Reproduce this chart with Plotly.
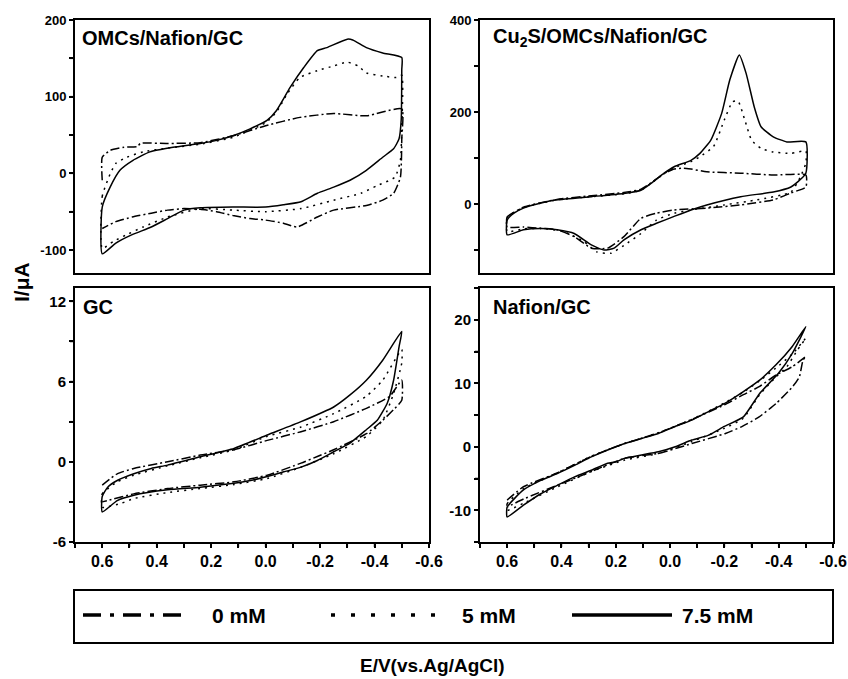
import plotly.graph_objects as go

FONT = "Liberation Sans, Arial, Helvetica, sans-serif"

# ---------------- data ----------------
concentrations = ["0 mM", "5 mM", "7.5 mM"]
panel_titles = ["OMCs/Nafion/GC", "Cu<sub>2</sub>S/OMCs/Nafion/GC", "GC", "Nafion/GC"]

# OMCs/Nafion/GC  (I in uA, E in V)
omc_E_0 = [0.6, 0.6, 0.57, 0.52, 0.47, 0.46, 0.36, 0.24, 0.12, 0.0, -0.126, -0.25, -0.37, -0.5,
           -0.5, -0.495, -0.47, -0.43, -0.37, -0.25, -0.19, -0.115, -0.065, 0.0, 0.057, 0.12, 0.18,
           0.24, 0.30, 0.36, 0.42, 0.49, 0.55, 0.6]
omc_I_0 = [-9, 21, 30, 34, 35, 39, 39, 40, 49, 62, 73, 78, 75, 84,
           45, -5, -26, -35, -42, -48, -57, -70, -65, -61, -59, -55, -50,
           -47, -46, -48, -52, -57, -63, -72]
omc_E_5 = [0.6, 0.6, 0.57, 0.55, 0.51, 0.45, 0.36, 0.24, 0.12, 0.0, -0.04, -0.08, -0.126, -0.19,
           -0.25, -0.30, -0.34, -0.37, -0.43, -0.48, -0.5,
           -0.5, -0.495, -0.475, -0.41, -0.35, -0.25, -0.13, 0.0, 0.12, 0.24, 0.36, 0.45, 0.51,
           0.56, 0.6]
omc_I_5 = [-98, -30, 0, 13, 21, 28, 33, 38, 47, 66, 80, 104, 125, 134,
           140, 145, 140, 131, 127, 125, 128,
           60, 17, -5, -16, -26, -35, -46, -50, -48, -46, -57, -70, -80,
           -89, -98]
omc_E_75 = [0.6, 0.6, 0.571, 0.535, 0.487, 0.425, 0.34, 0.24, 0.18, 0.12, 0.057, -0.005, -0.04,
            -0.09, -0.14, -0.19, -0.225, -0.30, -0.32, -0.37, -0.43, -0.5,
            -0.5, -0.498, -0.49, -0.47, -0.43, -0.37, -0.31, -0.25, -0.19, -0.13, -0.065, 0.0,
            0.12, 0.24, 0.30, 0.36, 0.42, 0.49, 0.55, 0.6]
omc_I_75 = [-105, -44, -18, 4, 17, 28, 34, 39, 43, 49, 58, 69, 82,
            112, 138, 160, 164, 175, 174, 164, 157, 151,
            135, 70, 45, 32, 21, 4, -9, -18, -26, -37, -41, -44,
            -44, -45, -48, -59, -70, -80, -91, -105]

# Cu2S/OMCs/Nafion/GC
cu_E_0 = [0.6, 0.6, 0.575, 0.54, 0.475, 0.417, 0.29, 0.17, 0.107, 0.07, 0.022, -0.015, -0.05,
          -0.077, -0.135, -0.26, -0.38, -0.5,
          -0.5, -0.445, -0.38, -0.26, -0.135, -0.015, 0.05, 0.107, 0.17, 0.23, 0.29, 0.353,
          0.416, 0.475, 0.54, 0.6]
cu_I_0 = [-50, -28, -18, -7, 3, 10, 18, 25, 32, 46, 66, 76, 78,
          76, 70, 67, 63, 63,
          37, 24, 9, -2, -9, -13, -20, -31, -71, -96, -96, -71,
          -56, -53, -50, -50]
cu_E_5 = [0.6, 0.6, 0.575, 0.54, 0.475, 0.417, 0.29, 0.17, 0.107, 0.07, 0.022, -0.015, -0.077,
          -0.11, -0.16, -0.2, -0.23, -0.25, -0.275, -0.30, -0.335, -0.38, -0.445, -0.5,
          -0.5, -0.48, -0.445, -0.32, -0.2, -0.077, -0.015, 0.05, 0.107, 0.17, 0.217, 0.27,
          0.317, 0.39, 0.475, 0.54, 0.6]
cu_I_5 = [-60, -30, -18, -8, 2, 9, 16, 22, 30, 45, 66, 79, 92,
          103, 125, 183, 222, 224, 183, 139, 121, 113, 110, 115,
          89, 59, 26, 9, -2, -13, -20, -35, -64, -90, -107, -104,
          -82, -60, -53, -54, -60]
cu_E_75 = [0.6, 0.6, 0.575, 0.54, 0.475, 0.417, 0.29, 0.17, 0.107, 0.07, 0.022, -0.015, -0.077,
           -0.11, -0.15, -0.19, -0.22, -0.255, -0.28, -0.31, -0.335, -0.38, -0.43, -0.5,
           -0.5, -0.47, -0.445, -0.38, -0.26, -0.135, -0.077, -0.015, 0.05, 0.107, 0.17, 0.206,
           0.243, 0.29, 0.353, 0.416, 0.475, 0.54, 0.6]
cu_I_75 = [-67, -35, -20, -9, 2, 9, 16, 23, 30, 45, 67, 81, 95,
           110, 139, 197, 270, 324, 284, 211, 168, 146, 135, 135,
           67, 48, 37, 26, 16, -2, -13, -27, -42, -56, -78, -96,
           -100, -89, -64, -56, -53, -56, -67]

# GC
gc_E_0 = [0.6, 0.545, 0.484, 0.36, 0.24, 0.116, -0.006, -0.13, -0.25, -0.37, -0.456, -0.5,
          -0.5, -0.47, -0.43, -0.37, -0.25, -0.19, -0.13, -0.006, 0.116, 0.24, 0.36, 0.484,
          0.58, 0.6]
gc_I_0 = [-1.75, -0.9, -0.5, 0.0, 0.5, 0.9, 1.6, 2.25, 3.0, 4.0, 4.9, 6.1,
          4.6, 3.9, 3.1, 2.1, 0.9, 0.4, -0.1, -1.0, -1.5, -1.75, -2.0, -2.4,
          -2.9, -3.0]
gc_E_5 = [0.6, 0.6, 0.545, 0.484, 0.36, 0.24, 0.116, -0.006, -0.13, -0.25, -0.37, -0.43, -0.5,
          -0.5, -0.47, -0.43, -0.37, -0.25, -0.13, -0.006, 0.116, 0.24, 0.36, 0.484, 0.53, 0.6]
gc_I_5 = [-3.4, -2.4, -1.5, -1.0, -0.3, 0.3, 0.9, 1.9, 2.6, 3.6, 4.9, 6.1, 8.4,
          7.4, 5.1, 3.1, 1.9, 0.6, -0.4, -1.25, -1.7, -2.0, -2.3, -2.75, -3.1, -3.4]
gc_E_75 = [0.6, 0.6, 0.58, 0.545, 0.484, 0.42, 0.36, 0.24, 0.116, -0.006, -0.13, -0.25, -0.31,
           -0.37, -0.43, -0.5,
           -0.49, -0.47, -0.447, -0.41, -0.37, -0.31, -0.25, -0.19, -0.13, -0.067, -0.006,
           0.055, 0.116, 0.24, 0.36, 0.484, 0.545, 0.6]
gc_I_75 = [-3.75, -2.6, -1.9, -1.4, -0.9, -0.5, -0.25, 0.375, 1.0, 2.0, 3.0, 4.1, 5.0,
           6.1, 7.6, 9.75,
           8.6, 6.1, 4.4, 3.1, 2.4, 1.4, 0.75, 0.1, -0.4, -0.75, -1.1,
           -1.4, -1.6, -1.9, -2.1, -2.5, -2.9, -3.75]

# Nafion/GC
naf_E_0 = [0.6, 0.54, 0.414, 0.29, 0.167, 0.043, -0.08, -0.20, -0.27, -0.33, -0.39, -0.45, -0.5,
           -0.49, -0.476, -0.452, -0.39, -0.328, -0.266, -0.204, -0.08, 0.043, 0.167, 0.29,
           0.414, 0.538, 0.6]
naf_I_0 = [-8.4, -6.3, -4.1, -1.5, 0.5, 2.2, 4.3, 6.6, 8.2, 9.5, 11.3, 12.6, 14.2,
           13.7, 11.0, 9.5, 6.8, 4.7, 3.2, 2.1, 0.5, -1.05, -1.8, -3.9,
           -6.05, -8.2, -9.5]
naf_E_5 = [0.6, 0.6, 0.54, 0.414, 0.29, 0.167, 0.043, -0.08, -0.20, -0.27, -0.33, -0.39, -0.45,
           -0.5,
           -0.47, -0.43, -0.39, -0.33, -0.27, -0.20, -0.08, 0.043, 0.167, 0.29, 0.414, 0.54, 0.6]
naf_I_5 = [-10, -9.0, -6.6, -4.1, -1.5, 0.5, 2.2, 4.3, 6.9, 8.6, 10.4, 12.4, 14.6,
           17.1,
           15.3, 12.6, 11.0, 8.2, 4.5, 2.9, 0.8, -1.05, -2.1, -3.9, -6.3, -8.9, -10]
naf_E_75 = [0.6, 0.6, 0.54, 0.476, 0.414, 0.35, 0.29, 0.23, 0.167, 0.105, 0.043, -0.019, -0.08,
            -0.14, -0.20, -0.27, -0.33, -0.39, -0.45, -0.5,
            -0.45, -0.40, -0.33, -0.27, -0.20, -0.14, -0.08, -0.019, 0.043, 0.105, 0.167, 0.2,
            0.23, 0.29, 0.35, 0.414, 0.476, 0.54, 0.6]
naf_I_75 = [-11.05, -9.5, -6.8, -5.3, -4.2, -2.9, -1.6, -0.5, 0.5, 1.3, 2.1, 3.2, 4.2,
            5.5, 6.8, 8.7, 10.5, 12.9, 15.8, 18.9,
            14.7, 11.6, 8.4, 4.7, 3.2, 1.8, 1.05, 0.0, -0.8, -1.3, -1.8, -2.4,
            -2.6, -3.7, -4.7, -6.05, -7.4, -9.2, -11.05]

# axis ticks (labelled values; unlabelled half-steps get a bare tick mark)
e_tick_vals = [0.6, 0.4, 0.2, 0.0, -0.2, -0.4, -0.6]
e_tick_text = ["0.6", "0.4", "0.2", "0.0", "-0.2", "-0.4", "-0.6"]
omc_tick_vals = [-100, 0, 100, 200]
omc_tick_text = ["-100", "0", "100", "200"]
cu_tick_vals = [0, 200, 400]
cu_tick_text = ["0", "200", "400"]
gc_tick_vals = [-6, 0, 6, 12]
gc_tick_text = ["-6", "0", "6", "12"]
naf_tick_vals = [-10, 0, 10, 20]
naf_tick_text = ["-10", "0", "10", "20"]

# ---------------- styling ----------------
W, H = 848, 679
dash_styles = ["9px,3px,2px,3px", "2px,5px", "solid"]
TICK_LEN = 5  # px, measured from the axis line centre

panels = [
    dict(curves=[(omc_E_0, omc_I_0), (omc_E_5, omc_I_5), (omc_E_75, omc_I_75)],
         xdom=(75, 429), ydom=(20, 273), yrange=[-130, 200],
         tv=omc_tick_vals, tt=omc_tick_text, xlabels=False, tfs=13),
    dict(curves=[(cu_E_0, cu_I_0), (cu_E_5, cu_I_5), (cu_E_75, cu_I_75)],
         xdom=(480, 833), ydom=(20, 273), yrange=[-150, 400],
         tv=cu_tick_vals, tt=cu_tick_text, xlabels=False, tfs=13),
    dict(curves=[(gc_E_0, gc_I_0), (gc_E_5, gc_I_5), (gc_E_75, gc_I_75)],
         xdom=(75, 429), ydom=(288, 542), yrange=[-6, 13],
         tv=gc_tick_vals, tt=gc_tick_text, xlabels=True, tfs=15),
    dict(curves=[(naf_E_0, naf_I_0), (naf_E_5, naf_I_5), (naf_E_75, naf_I_75)],
         xdom=(480, 833), ydom=(288, 542), yrange=[-15, 25],
         tv=naf_tick_vals, tt=naf_tick_text, xlabels=True, tfs=15),
]


def px_x(v):
    return v / W


def px_y(v):
    return 1 - v / H


def with_half_steps(vals, texts, lo, hi):
    """Labelled ticks plus unlabelled ones halfway between them, within the range."""
    step = abs(vals[1] - vals[0]) / 2.0
    a, b = min(lo, hi), max(lo, hi)
    base = min(vals)
    labels = {round(v, 6): t for v, t in zip(vals, texts)}
    out_v, out_t = [], []
    n0 = int((a - base) / step) - 2
    n1 = int((b - base) / step) + 2
    for n in range(n0, n1 + 1):
        v = round(base + n * step, 6)
        if a - 1e-9 <= v <= b + 1e-9:
            out_v.append(v)
            out_t.append(f"<b>{labels[v]}</b>" if v in labels else "")
    return out_v, out_t


fig = go.Figure()
layout = {}
annotations = []
shapes = []

for k, p in enumerate(panels, start=1):
    xa = "x" if k == 1 else f"x{k}"
    ya = "y" if k == 1 else f"y{k}"
    for (E, I), dash in zip(p["curves"], dash_styles):
        fig.add_trace(go.Scatter(
            x=E, y=I, mode="lines", xaxis=xa, yaxis=ya, showlegend=False,
            line=dict(color="black", width=1.5, dash=dash, shape="spline", smoothing=0.5),
            hoverinfo="skip"))

    xkey = "xaxis" if k == 1 else f"xaxis{k}"
    ykey = "yaxis" if k == 1 else f"yaxis{k}"
    wpx = p["xdom"][1] - p["xdom"][0]
    hpx = p["ydom"][1] - p["ydom"][0]
    xaxis = dict(
        domain=[px_x(p["xdom"][0]), px_x(p["xdom"][1])], anchor=ya,
        range=[0.7, -0.6], showgrid=False, zeroline=False, automargin=False,
        showline=True, linecolor="black", linewidth=2, mirror=True,
    )
    if p["xlabels"]:
        xv, xt = with_half_steps(e_tick_vals, e_tick_text, 0.7, -0.6)
        xaxis.update(
            tickmode="array", ticks="outside", ticklen=4, tickwidth=1.5, tickcolor="black",
            tickvals=xv, ticktext=xt,
            tickfont=dict(family=FONT, size=16, color="black"))
        for v in xv:
            shapes.append(dict(type="line", xref=xa, yref=f"{ya} domain",
                               x0=v, x1=v, y0=0, y1=-TICK_LEN / hpx,
                               line=dict(color="black", width=1.5)))
    else:
        xaxis.update(ticks="", showticklabels=False)
    layout[xkey] = xaxis

    yv, yt = with_half_steps(p["tv"], p["tt"], p["yrange"][0], p["yrange"][1])
    layout[ykey] = dict(
        domain=[px_y(p["ydom"][1]), px_y(p["ydom"][0])], anchor=xa,
        range=p["yrange"], showgrid=False, zeroline=False, automargin=False,
        showline=True, linecolor="black", linewidth=2, mirror=True,
        tickmode="array", ticks="outside", ticklen=4, tickwidth=1.5, tickcolor="black",
        tickvals=yv, ticktext=yt,
        tickfont=dict(family=FONT, size=p["tfs"], color="black"),
    )
    for v in yv:
        shapes.append(dict(type="line", xref=f"{xa} domain", yref=ya,
                           x0=0, x1=-TICK_LEN / wpx, y0=v, y1=v,
                           line=dict(color="black", width=1.5)))

# panel titles
title_pos = [(80, 38), (491, 37), (81, 307), (491, 307)]
for t, (tx, ty) in zip(panel_titles, title_pos):
    annotations.append(dict(
        text=f"<b>{t}</b>", x=px_x(tx), y=px_y(ty), xref="paper", yref="paper",
        xanchor="left", yanchor="middle", showarrow=False,
        font=dict(family=FONT, size=20, color="black")))

# axis titles
annotations.append(dict(
    text="<b>I/\u03bcA</b>", x=px_x(21), y=px_y(282), xref="paper", yref="paper",
    xanchor="center", yanchor="middle", textangle=-90, showarrow=False,
    font=dict(family=FONT, size=21, color="black")))
annotations.append(dict(
    text="<b>E/V(vs.Ag/AgCl)</b>", x=px_x(433), y=px_y(665), xref="paper", yref="paper",
    xanchor="center", yanchor="middle", showarrow=False,
    font=dict(family=FONT, size=19, color="black")))

# legend box with line samples
shapes.append(dict(type="rect", xref="paper", yref="paper",
                   x0=px_x(74), x1=px_x(833), y0=px_y(643), y1=px_y(590),
                   line=dict(color="black", width=2), fillcolor="rgba(0,0,0,0)"))
legend_dash = ["18px,9px,4px,9px", "4px,16px", "solid"]
legend_lines = [(83, 188), (331, 436), (572, 672)]
legend_text_x = [210, 460, 680]
ly = 615
for name, dash, (lx0, lx1), tx in zip(concentrations, legend_dash, legend_lines, legend_text_x):
    shapes.append(dict(type="line", xref="paper", yref="paper",
                       x0=px_x(lx0), x1=px_x(lx1), y0=px_y(ly), y1=px_y(ly),
                       line=dict(color="black", width=3.5, dash=dash)))
    annotations.append(dict(
        text=f"<b>{name}</b>", x=px_x(tx), y=px_y(ly), xref="paper", yref="paper",
        xanchor="left", yanchor="middle", showarrow=False,
        font=dict(family=FONT, size=21, color="black")))

fig.update_layout(
    template="none",
    width=W, height=H, margin=dict(l=0, r=0, t=0, b=0, autoexpand=False),
    paper_bgcolor="white", plot_bgcolor="white",
    annotations=annotations, shapes=shapes, **layout)

fig.write_html("out.html")
